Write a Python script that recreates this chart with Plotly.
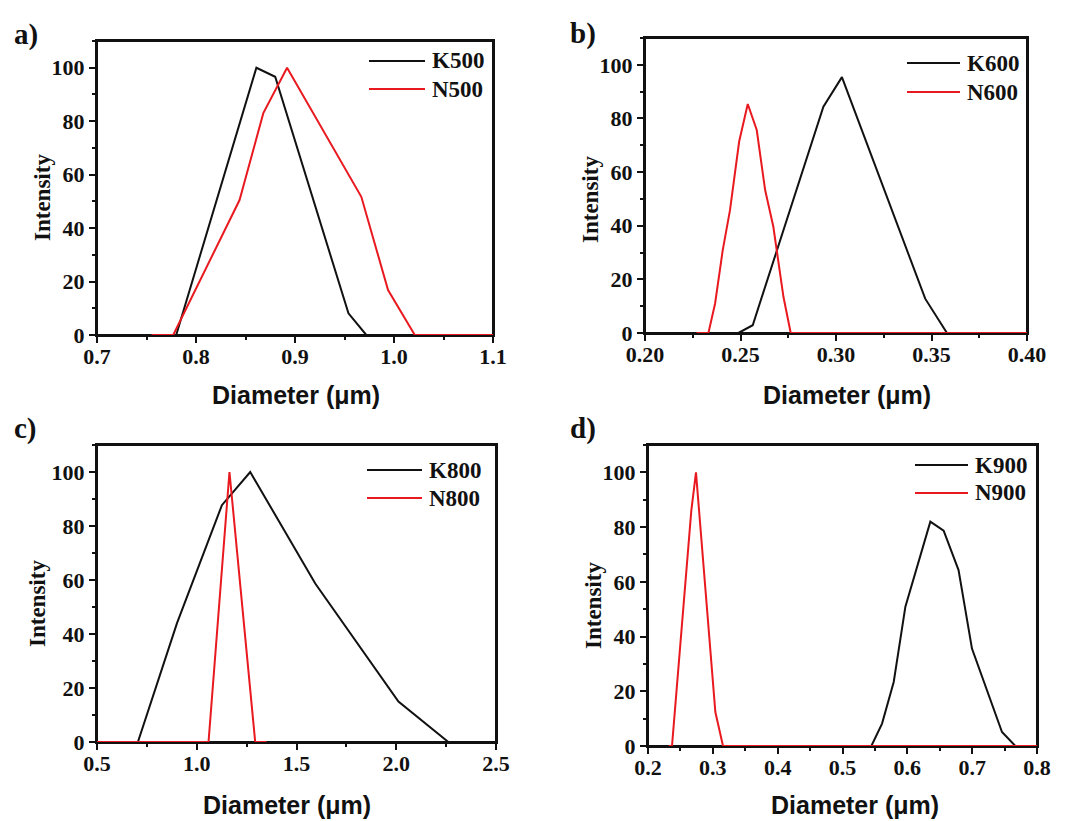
import plotly.graph_objects as go

W, H = 1071, 821

# ---------------- data ----------------
k500_x = [0.780, 0.861, 0.880, 0.954, 0.972]
k500_y = [0, 100, 96.6, 8.1, 0]
n500_x = [0.755, 0.777, 0.844, 0.868, 0.892, 0.967, 0.994, 1.021, 1.100]
n500_y = [0, 0, 50.5, 83, 100, 51.7, 16.8, 0, 0]

k600_x = [0.2489, 0.2564, 0.2934, 0.3031, 0.3467, 0.3581]
k600_y = [0, 2.9, 84.4, 95.4, 12.8, 0]
n600_x = [0.227, 0.2332, 0.2367, 0.2407, 0.2445, 0.2493, 0.2538, 0.2585,
          0.2629, 0.2672, 0.2725, 0.2763, 0.400]
n600_y = [0, 0, 11, 30.9, 45.8, 71.4, 85.4, 75.7, 53.3, 39.6, 13.4, 0, 0]

k800_x = [0.705, 0.901, 1.126, 1.268, 1.594, 2.011, 2.261]
k800_y = [0, 44, 87.7, 100, 58.7, 15, 0]
n800_x = [0.5, 1.059, 1.164, 1.293, 1.35]
n800_y = [0, 0, 100, 0, 0]

k900_x = [0.5445, 0.561, 0.579, 0.597, 0.6355, 0.656, 0.679, 0.6997, 0.746, 0.7666]
k900_y = [0, 8.2, 23.4, 50.9, 82, 78.7, 64.3, 35.6, 5.1, 0]
n900_x = [0.232, 0.237, 0.2668, 0.274, 0.3039, 0.3157, 0.800]
n900_y = [0, 0, 86, 100, 12.4, 0, 0]

panels = [
    dict(label="a)", k=(k500_x, k500_y), n=(n500_x, n500_y), names=("K500", "N500"),
         xr=[0.7, 1.1], dt=0.1, fmt=".1f"),
    dict(label="b)", k=(k600_x, k600_y), n=(n600_x, n600_y), names=("K600", "N600"),
         xr=[0.20, 0.40], dt=0.05, fmt=".2f"),
    dict(label="c)", k=(k800_x, k800_y), n=(n800_x, n800_y), names=("K800", "N800"),
         xr=[0.5, 2.5], dt=0.5, fmt=".1f"),
    dict(label="d)", k=(k900_x, k900_y), n=(n900_x, n900_y), names=("K900", "N900"),
         xr=[0.2, 0.8], dt=0.1, fmt=".1f"),
]

# ---------------- layout geometry (pixels) ----------------
geom = [
    dict(x=(97, 493), y=(41, 335), lab=(26, 35), xt=(296, 395), yt=(42, 198),
         leg=(369, 425, 61, 89)),
    dict(x=(645, 1027), y=(38, 333), lab=(583, 33), xt=(847, 395), yt=(590, 200),
         leg=(907, 960, 63, 92)),
    dict(x=(97, 496), y=(445, 742), lab=(25, 428), xt=(287, 805), yt=(37, 604),
         leg=(367, 422, 470, 498)),
    dict(x=(648, 1037), y=(445, 746), lab=(583, 428), xt=(855, 805), yt=(593, 606),
         leg=(915, 968, 465, 493)),
]

def px(p):
    return p / W

def py(p):
    return 1 - p / H

BLACK = "#111111"
RED = "#e8191f"
serif = "Liberation Serif"
sans = "Liberation Sans"

fig = go.Figure()
annotations = []
shapes = []

def note(text, x, y, font, **kw):
    d = dict(text=text, x=px(x), y=py(y), xref="paper", yref="paper",
             xanchor="center", yanchor="middle", showarrow=False, font=font)
    d.update(kw)
    annotations.append(d)

for i, (p, g) in enumerate(zip(panels, geom)):
    sfx = "" if i == 0 else str(i + 1)
    xa, ya = "x" + sfx, "y" + sfx
    fig.add_trace(go.Scatter(x=p["k"][0], y=p["k"][1], mode="lines",
                             line=dict(color=BLACK, width=2), xaxis=xa, yaxis=ya,
                             showlegend=False, cliponaxis=False))
    fig.add_trace(go.Scatter(x=p["n"][0], y=p["n"][1], mode="lines",
                             line=dict(color=RED, width=2), xaxis=xa, yaxis=ya,
                             showlegend=False, cliponaxis=False))

    axis_common = dict(showline=True, linecolor=BLACK, linewidth=2, mirror=True,
                       ticks="outside", ticklen=6, tickwidth=2, tickcolor=BLACK,
                       showgrid=False, zeroline=False, automargin=False,
                       layer="below traces",
                       tickfont=dict(family=serif, size=22, color=BLACK, weight="bold"))
    fig.layout["xaxis" + sfx] = dict(
        axis_common, domain=[px(g["x"][0]), px(g["x"][1])], range=p["xr"],
        anchor=ya, dtick=p["dt"], tick0=p["xr"][0], tickformat=p["fmt"],
        ticklabelstandoff=-5,
        minor=dict(ticks="outside", ticklen=3, tickwidth=2, tickcolor=BLACK,
                   dtick=p["dt"] / 2, showgrid=False))
    fig.layout["yaxis" + sfx] = dict(
        axis_common, domain=[py(g["y"][1]), py(g["y"][0])], range=[0, 110],
        anchor=xa, dtick=20, tick0=0,
        minor=dict(ticks="outside", ticklen=3, tickwidth=2, tickcolor=BLACK,
                   dtick=10, showgrid=False))

    # frame around the plotting area (paper coordinates, below the data lines)
    shapes.append(dict(type="rect", xref="paper", yref="paper",
                       x0=px(g["x"][0]), x1=px(g["x"][1]),
                       y0=py(g["y"][1]), y1=py(g["y"][0]),
                       line=dict(color=BLACK, width=2),
                       fillcolor="rgba(0,0,0,0)", layer="below"))

    note("<b>" + p["label"] + "</b>", g["lab"][0], g["lab"][1],
         dict(family=serif, size=29, color=BLACK))
    note("<b>Diameter (μm)</b>", g["xt"][0], g["xt"][1],
         dict(family=sans, size=25, color=BLACK))
    note("<b>Intensity</b>", g["yt"][0], g["yt"][1],
         dict(family=serif, size=23, color=BLACK), textangle=-90)
    lx0, lx1, ly0, ly1 = g["leg"]
    for name, yy, col in ((p["names"][0], ly0, BLACK), (p["names"][1], ly1, RED)):
        shapes.append(dict(type="line", xref="paper", yref="paper",
                           x0=px(lx0), x1=px(lx1), y0=py(yy), y1=py(yy),
                           line=dict(color=col, width=2)))
        note("<b>" + name + "</b>", lx1 + 5, yy,
             dict(family=serif, size=23, color=BLACK), xanchor="left")

fig.update_layout(template="none", width=W, height=H,
                  margin=dict(l=0, r=0, t=0, b=0, pad=0),
                  paper_bgcolor="white", plot_bgcolor="white",
                  annotations=annotations, shapes=shapes, showlegend=False)

fig.write_html("out.html", config={"displayModeBar": False},
               post_script="document.body.style.margin='0';document.body.style.overflow='hidden';")
